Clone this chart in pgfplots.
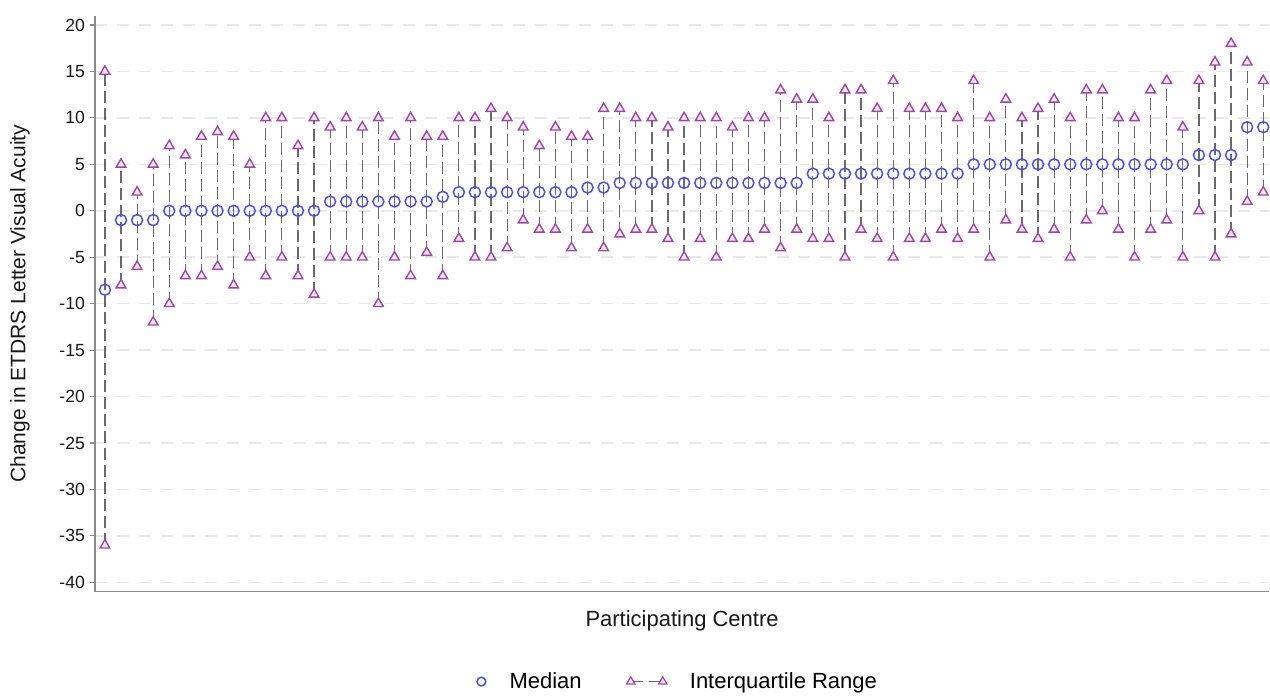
\documentclass[border=0pt]{standalone}
\usepackage{fontspec}
\setmainfont{Liberation Sans}
\usepackage{pgfplots}
\pgfplotsset{compat=1.18}
\usepackage{pgfplotstable}
\definecolor{medblue}{HTML}{4F4FF0}
\definecolor{iqrpurple}{HTML}{A046A8}
\definecolor{iqrfill}{HTML}{F5E8F5}
\definecolor{iqrline}{HTML}{6A6A6A}
\definecolor{gridc}{HTML}{E8E8E8}
\definecolor{axisc}{HTML}{8C8C8C}

\pgfplotstableread{
x med lo hi
1 -8.5 -36 15
2 -1 -8 5
3 -1 -6 2
4 -1 -12 5
5 0 -10 7
6 0 -7 6
7 0 -7 8
8 0 -6 8.5
9 0 -8 8
10 0 -5 5
11 0 -7 10
12 0 -5 10
13 0 -7 7
14 0 -9 10
15 1 -5 9
16 1 -5 10
17 1 -5 9
18 1 -10 10
19 1 -5 8
20 1 -7 10
21 1 -4.5 8
22 1.5 -7 8
23 2 -3 10
24 2 -5 10
25 2 -5 11
26 2 -4 10
27 2 -1 9
28 2 -2 7
29 2 -2 9
30 2 -4 8
31 2.5 -2 8
32 2.5 -4 11
33 3 -2.5 11
34 3 -2 10
35 3 -2 10
36 3 -3 9
37 3 -5 10
38 3 -3 10
39 3 -5 10
40 3 -3 9
41 3 -3 10
42 3 -2 10
43 3 -4 13
44 3 -2 12
45 4 -3 12
46 4 -3 10
47 4 -5 13
48 4 -2 13
49 4 -3 11
50 4 -5 14
51 4 -3 11
52 4 -3 11
53 4 -2 11
54 4 -3 10
55 5 -2 14
56 5 -5 10
57 5 -1 12
58 5 -2 10
59 5 -3 11
60 5 -2 12
61 5 -5 10
62 5 -1 13
63 5 0 13
64 5 -2 10
65 5 -5 10
66 5 -2 13
67 5 -1 14
68 5 -5 9
69 6 0 14
70 6 -5 16
71 6 -2.5 18
72 9 1 16
73 9 2 14
}\data

\begin{document}
\begin{tikzpicture}
\begin{axis}[
  scale only axis,
  width=587.5pt, height=288pt,
  xmin=0.379, xmax=73.37,
  ymin=-41, ymax=20.97,
  axis x line*=bottom, axis y line*=left,
  axis line style={axisc, line width=0.8pt},
  xtick=\empty,
  ytick={-40,-35,...,20},
  tick align=outside,
  major tick length=2.5pt,
  tick style={axisc, line width=0.6pt},
  ymajorgrids,
  grid style={gridc, line width=0.75pt, dash pattern=on 6pt off 5pt},
  /pgf/number format/assume math mode=true,
  yticklabel style={font=\fontsize{8.8}{10}\selectfont, text=black!90, xshift=1pt},
  xlabel={Participating Centre},
  xlabel style={at={(axis description cs:0.5,0)}, anchor=center, yshift=-14.5pt,
    font=\fontsize{11}{13}\selectfont, text=black!90},
  ylabel={Change in ETDRS Letter Visual Acuity},
  ylabel style={at={(axis description cs:-0.0638,0.5)}, anchor=center,
    font=\fontsize{10.5}{12}\selectfont, text=black!90},
  legend columns=2,
  legend style={at={(axis description cs:0.5,0)}, anchor=center, yshift=-45pt, xshift=-1.75pt,
    draw=none, fill=none, font=\fontsize{11}{13}\selectfont,
    /tikz/every odd column/.append style={column sep=9.5pt},
    /tikz/every even column/.append style={column sep=20.5pt}},
  clip=false,
]
\addplot[draw=none, mark=none, forget plot,
  error bars/.cd, y dir=plus, y explicit, error mark=none,
  error bar style={iqrline, line width=0.6pt, dash pattern=on 6pt off 2.5pt}]
  table[x=x, y=lo, y error expr=\thisrow{hi}-\thisrow{lo}] {\data};
\addplot[forget plot, only marks, mark=triangle*, mark size=2.8pt,
  mark options={draw=iqrpurple, fill=iqrfill, line width=0.7pt}]
  table[x=x, y=lo] {\data};
\addplot[forget plot, only marks, mark=triangle*, mark size=2.8pt,
  mark options={draw=iqrpurple, fill=iqrfill, line width=0.7pt}]
  table[x=x, y=hi] {\data};
\addplot[only marks, mark=o, mark size=2.75pt,
  mark options={draw=medblue, line width=0.75pt},
  legend image code/.code={\draw[medblue, line width=0.75pt] (3pt,0pt) circle (2.2pt);}]
  table[x=x, y=med] {\data};
\addlegendentry{Median}
\addlegendimage{legend image code/.code={
  \draw[iqrline, line width=0.6pt, dash pattern=on 6pt off 3pt] (0pt,0pt) -- (16pt,0pt);
  \draw[iqrpurple, fill=iqrfill, line width=0.6pt] plot[only marks, mark=triangle*, mark size=2.4pt] coordinates {(0pt,0pt) (16pt,0pt)};
}}
\addlegendentry{Interquartile Range}
\end{axis}
\path[use as bounding box] ([xshift=-47.5pt, yshift=-50.5pt]current axis.south west) rectangle ([yshift=8pt]current axis.north east);
\end{tikzpicture}
\end{document}
